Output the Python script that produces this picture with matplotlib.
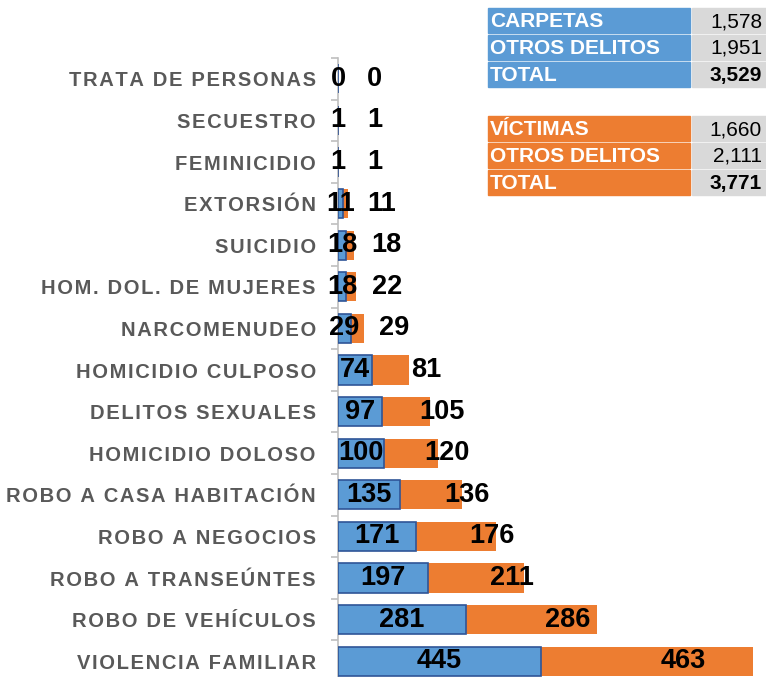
import numpy as np
import matplotlib
matplotlib.use("Agg")
import matplotlib.pyplot as plt
from matplotlib.patches import Rectangle

# categories top -> bottom
categorias = ["TRATA DE PERSONAS", "SECUESTRO", "FEMINICIDIO", "EXTORSIÓN",
              "SUICIDIO", "HOM. DOL. DE MUJERES", "NARCOMENUDEO",
              "HOMICIDIO CULPOSO", "DELITOS SEXUALES", "HOMICIDIO DOLOSO",
              "ROBO A CASA HABITACIÓN", "ROBO A NEGOCIOS", "ROBO A TRANSEÚNTES",
              "ROBO DE VEHÍCULOS", "VIOLENCIA FAMILIAR"]
carpetas = [0, 1, 1, 11, 18, 18, 29, 74, 97, 100, 135, 171, 197, 281, 445]
victimas = [0, 1, 1, 11, 18, 22, 29, 81, 105, 120, 136, 176, 211, 286, 463]

tabla_carpetas = [("CARPETAS", "1,578"), ("OTROS DELITOS", "1,951"), ("TOTAL", "3,529")]
tabla_victimas = [("VÍCTIMAS", "1,660"), ("OTROS DELITOS", "2,111"), ("TOTAL", "3,771")]

azul = "#5b9bd5"
naranja = "#ed7d31"
W, H = 766, 677

fig = plt.figure(figsize=(W / 100, H / 100), dpi=100)
ax = fig.add_axes([338 / W, 1 - 682 / H, 415.5 / W, 624 / H])

y = np.arange(len(categorias))
ax.barh(y, carpetas, height=0.7, color=azul, edgecolor="#2f5597", linewidth=1.2, zorder=3)
ax.barh(y, victimas, left=carpetas, height=0.7, color=naranja, linewidth=0, zorder=2)

ax.set_xlim(0, 910)
ax.set_ylim(len(categorias) - 0.5, -0.5)

numfont = dict(family="Liberation Sans", weight="bold", size=19.5)
for i in range(len(categorias)):
    ax.text(carpetas[i] / 2, i, str(carpetas[i]), ha="center", va="center",
            zorder=5, **numfont)
    ax.annotate(str(victimas[i]), (carpetas[i] + victimas[i] / 2, i),
                xytext=(26, 0), textcoords="offset points",
                ha="center", va="center", zorder=5, **numfont)

# axis styling
for s in ["top", "right", "bottom"]:
    ax.spines[s].set_visible(False)
ax.spines["left"].set_color("#bfbfbf")
ax.spines["left"].set_linewidth(1.2)
ax.set_xticks([])
ax.set_yticks(y)
ax.set_yticklabels(["\u200a".join(c) for c in categorias],
                   family="Liberation Sans", weight="bold", size=14.5, color="#595959")
ax.tick_params(axis="y", which="major", length=0, pad=16)
ax.set_yticks(np.arange(-0.5, len(categorias)), minor=True)
ax.tick_params(axis="y", which="minor", length=5, color="#bfbfbf", width=1.2)


def tabla(filas, color, top):
    for k, (etq, val) in enumerate(filas):
        y0 = top + k * 27
        fig.patches.append(Rectangle((488 / W, 1 - (y0 + 25) / H), 202 / W, 25 / H,
                                     transform=fig.transFigure, color=color))
        fig.patches.append(Rectangle((692 / W, 1 - (y0 + 25) / H), 74 / W, 25 / H,
                                     transform=fig.transFigure, color="#d9d9d9"))
        fig.text(490 / W, 1 - (y0 + 13.5) / H, etq, color="white", weight="bold",
                 family="Liberation Sans", size=15, va="center", ha="left")
        fig.text(762 / W, 1 - (y0 + 13.5) / H, val, color="black",
                 weight="bold" if etq == "TOTAL" else "normal",
                 family="Liberation Sans", size=15, va="center", ha="right")


tabla(tabla_carpetas, azul, 8)
tabla(tabla_victimas, naranja, 116)

fig.savefig("out.png", dpi=100)
